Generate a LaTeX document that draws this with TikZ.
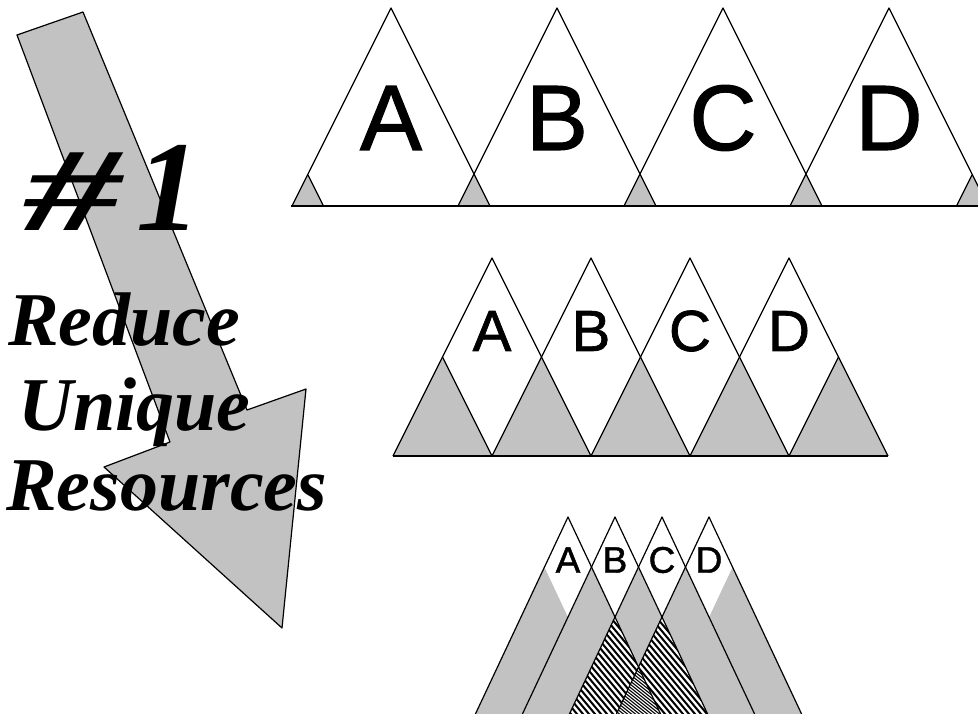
\documentclass[tikz,border=0pt]{standalone}
\usepackage{fontspec}
\setmainfont{Liberation Serif}
\newfontfamily\lsans[FakeBold=1.2]{Liberation Sans}
\definecolor{shade}{gray}{0.76}
\begin{document}
\begin{tikzpicture}[x=1pt,y=-1pt,
  edge/.style={line width=1.2pt, line join=round},
  baseln/.style={line width=2pt},
  shadefill/.style={fill=shade},
  lettertop/.style={font=\lsans\fontsize{93}{93}\selectfont, inner sep=0pt},
  lettermid/.style={font=\lsans\fontsize{58}{58}\selectfont, inner sep=0pt},
  letterbot/.style={font=\lsans\fontsize{37}{37}\selectfont, inner sep=0pt},
  bigword/.style={font=\bfseries\itshape\fontsize{76}{76}\selectfont, inner sep=0pt, anchor=base west},
  numfont/.style={font=\bfseries\itshape\fontsize{129}{129}\selectfont, inner sep=0pt, anchor=base west},
  hatchA/.style={line width=2pt},
  hatchB/.style={line width=1.1pt}]
\useasboundingbox (0,0) rectangle (978,713);
\clip (0,0) rectangle (978,713);

% ---------- big arrow ----------
\filldraw[fill=shade, edge] (17,35) -- (83,12) -- (247,410) -- (306,389) -- (282,628) -- (104,467) -- (170,442) -- cycle;

% ---------- top row ----------
\foreach \x in {308,474,640,806,972}
  \fill[shadefill] (\x,175) -- (\x+15.5,206) -- (\x-15.5,206) -- cycle;
\foreach \x in {391,557,723,889}
  \draw[edge] (\x-99,206) -- (\x,8) -- (\x+99,206);
\draw[edge] (308,175) -- (323.5,206);
\draw[edge] (972,175) -- (956.5,206);
\draw[baseln] (291,206) -- (978,206);
\node[lettertop] (tA) at (391,118) {A};
\node[lettertop] (tB) at (557,118) {B};
\node[lettertop] (tC) at (723,118) {C};
\node[lettertop] (tD) at (889,118) {D};

% ---------- middle row ----------
\foreach \x in {442.5,541.5,640.5,739.5,838.5}
  \fill[shadefill] (\x,357) -- (\x+49.5,456) -- (\x-49.5,456) -- cycle;
\foreach \x in {492,591,690,789}
  \draw[edge] (\x-99,456) -- (\x,258) -- (\x+99,456);
\draw[edge] (442.5,357) -- (492,456);
\draw[edge] (838.5,357) -- (789,456);
\draw[baseln] (393,456) -- (888,456);
\node[lettermid] (mA) at (492,331) {A};
\node[lettermid] (mB) at (591,331) {B};
\node[lettermid] (mC) at (690,331) {C};
\node[lettermid] (mD) at (789,331) {D};

% ---------- bottom row ----------
\foreach \x in {568,615,662,709}
  \fill[shadefill] (\x-95.4,720) -- (\x,517) -- (\x+95.4,720) -- cycle;
\foreach \x in {568,615,662,709}
  \fill[white] (\x,517) -- (\x+23.5,567) -- (\x,617) -- (\x-23.5,567) -- cycle;
% three-fold overlaps
\begin{scope}
  \clip (615,617) -- (663,720) -- (567,720) -- cycle;
  \fill[white] (560,610) rectangle (720,720);
  \foreach \x in {440,446,...,760}
    \draw[hatchA] (\x,600) -- ++(100,120);
\end{scope}
\begin{scope}
  \clip (662,617) -- (710,720) -- (614,720) -- cycle;
  \fill[white] (600,610) rectangle (760,720);
  \foreach \x in {480,486,...,800}
    \draw[hatchA] (\x,600) -- ++(100,120);
\end{scope}
% four-fold overlap
\begin{scope}
  \clip (638.5,667) -- (663,720) -- (614,720) -- cycle;
  \fill[white] (600,660) rectangle (680,720);
  \foreach \x in {500,504,...,700}
    \draw[hatchB] (\x,660) -- ++(75,60);
\end{scope}
\foreach \x in {568,615,662,709}
  \draw[edge] (\x-95.4,720) -- (\x,517) -- (\x+95.4,720);
\node[letterbot] (bA) at (568,560) {A};
\node[letterbot] (bB) at (615,560) {B};
\node[letterbot] (bC) at (662,560) {C};
\node[letterbot] (bD) at (709,560) {D};

% ---------- title text ----------
\node[numfont, xscale=1.5, yscale=0.92] (hash) at (24,230) {\#};
\node[numfont] (one) at (136,230) {1};
\node[bigword] (w1) at (8,345) {Reduce};
\node[bigword] (w2) at (18,430) {Unique};
\node[bigword] (w3) at (6,510) {Resources};
\end{tikzpicture}
\end{document}
